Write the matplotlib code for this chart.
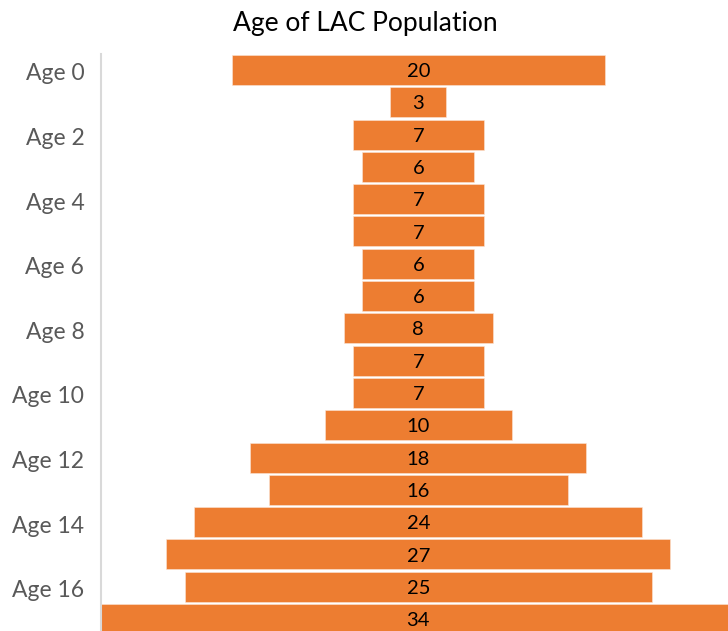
import numpy as np
import matplotlib.pyplot as plt
from matplotlib.transforms import ScaledTranslation

# Age of LAC population, centred bar (pyramid) chart
ages = ["Age %d" % i for i in range(18)]
counts = np.array([20, 3, 7, 6, 7, 7, 6, 6, 8, 7, 7, 10, 18, 16, 24, 27, 25, 34])
shown_ticks = ["Age %d" % i for i in range(0, 17, 2)]

plt.rcParams['font.family'] = ['Lato', 'DejaVu Sans']

fig = plt.figure(figsize=(7.28, 6.31), dpi=100)
ax = fig.add_axes([101 / 728, 0, 627 / 728, 577 / 631])

y = np.arange(len(ages))
ax.barh(y, counts, left=-counts / 2, height=0.93, color='#ED7D31',
        edgecolor='#FBE5D6', linewidth=0.4)

for yi, c in zip(y, counts):
    ax.text(0, yi + 0.05, str(c), ha='center', va='center', fontsize=14.5, color='#000000')

ax.set_xlim(-16.995, 16.588)
ax.set_ylim(17.37, -0.495)

tick_pos = [ages.index(t) for t in shown_ticks]
ax.set_yticks(tick_pos)
ax.set_yticklabels(shown_ticks, fontsize=16.5, color='#595959')
ax.tick_params(axis='y', length=0, pad=12)
ax.set_xticks([])
# nudge the labels down a touch
shift = ScaledTranslation(0, -2 / 100, fig.dpi_scale_trans)
for lbl in ax.get_yticklabels():
    lbl.set_transform(lbl.get_transform() + shift)

for side in ['top', 'right', 'bottom']:
    ax.spines[side].set_visible(False)
ax.spines['left'].set_color('#D9D9D9')
ax.spines['left'].set_linewidth(1.5)

fig.text(365 / 728, 1 - 23 / 631, "Age of LAC Population", ha='center', va='center',
         fontsize=19, color='#000000')

fig.savefig("out.png", dpi=100)
